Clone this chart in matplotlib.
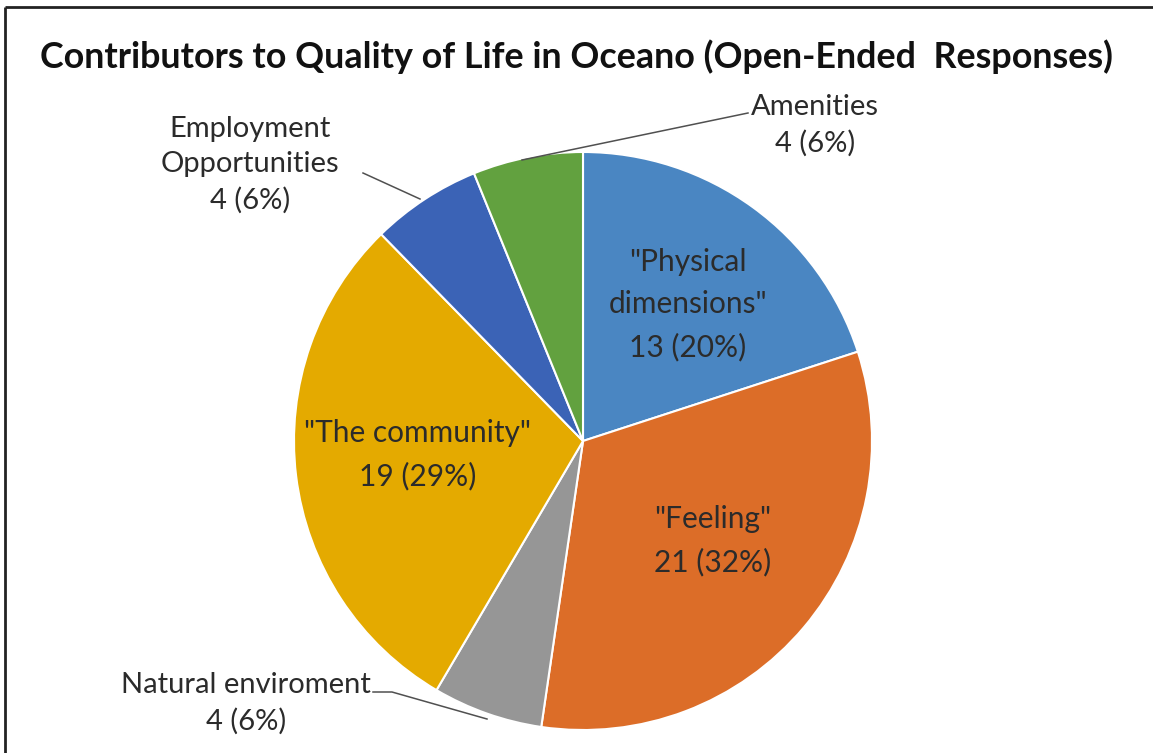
import matplotlib
matplotlib.use("Agg")
import matplotlib.pyplot as plt

categories = ['"Physical\ndimensions"', '"Feeling"', 'Natural enviroment',
              '"The community"', 'Employment\nOpportunities', 'Amenities']
values = [13, 21, 4, 19, 4, 4]
colors = ['#4a86c2', '#dc6d28', '#969696', '#e4aa00', '#3b63b6', '#62a13f']

W, H = 1153, 753
fig = plt.figure(figsize=(W / 100, H / 100), dpi=100)
ax = fig.add_axes([0, 0, 1, 1])

def py(y):
    return H - y

cx, cy, r = 583, 441, 289
ax.pie(values, colors=colors, startangle=90, counterclock=False,
       center=(cx, py(cy)), radius=r, frame=True,
       wedgeprops=dict(edgecolor='white', linewidth=1.5))
ax.set_xlim(0, W)
ax.set_ylim(0, H)
ax.set_aspect('equal')
ax.axis('off')

total = sum(values)
labels = [f"{c}\n{v} ({round(v / total * 100)}%)" for c, v in zip(categories, values)]

font = 'Lato'
tc = '#2b2b2b'
inside = {0: (688, 305), 1: (713, 541), 3: (418, 455)}
outside = {4: (250, 165), 5: (815, 125), 2: (246, 703)}
for i, (x, y) in inside.items():
    ax.text(x, py(y), labels[i], ha='center', va='center', fontsize=21.5,
            family=font, color=tc, linespacing=1.62)
for i, (x, y) in outside.items():
    ax.text(x, py(y), labels[i], ha='center', va='center', fontsize=21,
            family=font, color=tc, linespacing=1.45)

lc = '#505050'
ax.plot([363, 420], [py(173), py(199)], color=lc, lw=1.1)
ax.plot([748, 522], [py(113), py(160)], color=lc, lw=1.1)
ax.plot([373, 392, 487], [py(692), py(692), py(719)], color=lc, lw=1.1)

ax.text(576, py(57), 'Contributors to Quality of Life in Oceano (Open-Ended  Responses)',
        ha='center', va='center', fontsize=25.8, fontweight='bold', family=font, color='#111111')

# frame lines (top and left)
ax.plot([5, W], [py(7), py(7)], color='#222222', lw=2, solid_capstyle='butt')
ax.plot([5, 5], [py(7), 0], color='#222222', lw=2, solid_capstyle='butt')

fig.savefig('out.png', dpi=100)
